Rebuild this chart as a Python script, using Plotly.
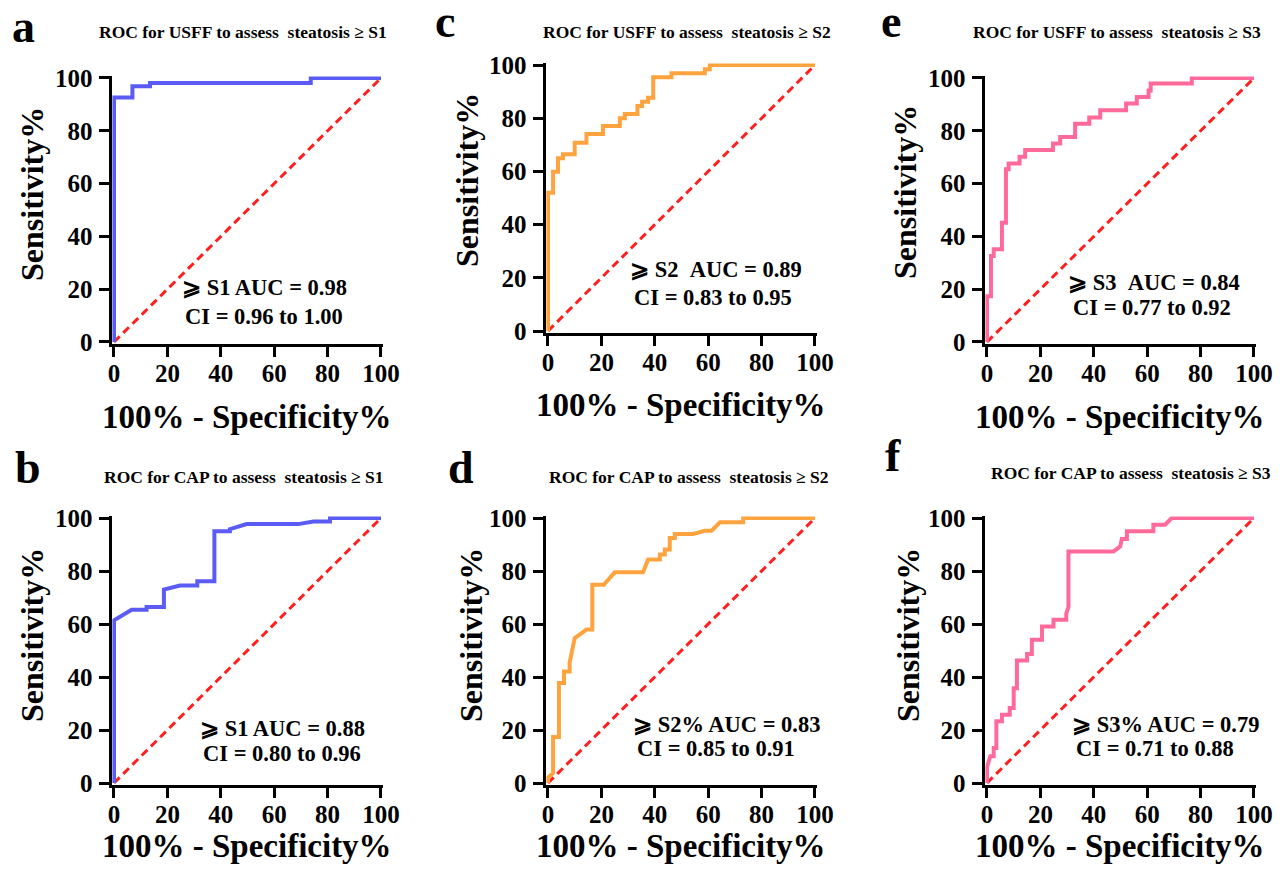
import plotly.graph_objects as go

# ---------------- data ----------------
fpr_a = [0, 0, 6.9, 6.9, 13.5, 13.5, 73.7, 73.7, 100]
tpr_a = [0, 92.6, 92.6, 96.9, 96.9, 98.1, 98.1, 100, 100]

fpr_b = [0, 0, 6.6, 12.2, 12.2, 18.7, 18.7, 24.7, 31.2, 31.2, 37.6, 37.6, 43.4, 43.4, 49.7, 69.0, 74.7, 80.9, 80.9, 100]
tpr_b = [0, 61.4, 65.4, 65.4, 66.4, 66.4, 73.0, 74.5, 74.5, 76.1, 76.1, 95.0, 95.0, 95.8, 97.7, 97.7, 98.7, 98.7, 100, 100]

fpr_c = [0, 0, 1.9, 1.9, 3.75, 3.75, 5.6, 5.6, 10.0, 10.0, 14.4, 14.4, 20.6, 20.6, 26.9, 26.9, 28.75,
         28.75, 33.5, 33.5, 35.25, 35.25, 37.5, 37.5, 39.4, 39.4, 46.25, 46.25, 58.75, 58.75, 60.6, 60.6, 100]
tpr_c = [0, 52.0, 52.0, 59.9, 59.9, 64.9, 64.9, 66.4, 66.4, 70.8, 70.8, 74.1, 74.1, 77.1, 77.1, 80.0, 80.0,
         81.6, 81.6, 84.6, 84.6, 86.2, 86.2, 87.7, 87.7, 95.4, 95.4, 96.9, 96.9, 98.4, 98.4, 100, 100]

fpr_d = [0, 0, 1.9, 1.9, 4.1, 4.1, 6.0, 6.0, 8.1, 8.1, 10.0, 14.4, 16.6, 16.6, 20.9, 25.0, 35.6, 37.5, 41.9,
         41.9, 43.75, 43.75, 45.6, 45.6, 47.5, 47.5, 54.4, 58.75, 61.25, 64.4, 73.1, 73.1, 100]
tpr_d = [0, 2.0, 3.8, 17.4, 17.4, 37.7, 37.7, 42.1, 42.1, 45.5, 54.7, 57.9, 57.9, 74.8, 74.8, 79.5, 79.5, 84.3, 84.3,
         86.2, 86.2, 88.1, 88.1, 92.5, 92.5, 94.0, 94.0, 95.2, 95.2, 98.4, 98.4, 100, 100]

fpr_e = [0, 0, 1.5, 1.5, 2.5, 2.5, 5.6, 5.6, 7.1, 7.1, 8.1, 8.1, 12.2, 12.2, 14.3, 14.3, 24.7, 24.7, 27.4,
         27.4, 33.0, 33.0, 38.3, 38.3, 42.4, 42.4, 52.1, 52.1, 56.1, 56.1, 60.5, 60.5, 61.3, 61.3, 76.7, 76.7, 100]
tpr_e = [0, 17.3, 17.3, 32.6, 32.6, 35.1, 35.1, 45.2, 45.2, 65.4, 65.4, 67.6, 67.6, 70.2, 70.2, 72.7, 72.7, 75.2, 75.2,
         77.7, 77.7, 82.7, 82.7, 85.0, 85.0, 87.8, 87.8, 90.3, 90.3, 92.8, 92.8, 95.3, 95.3, 97.9, 97.9, 100, 100]

fpr_f = [0, 0, 1.25, 2.5, 2.5, 3.5, 3.5, 5.6, 5.6, 8.5, 8.5, 10.0, 10.0, 11.2, 11.2, 15.0, 15.0, 16.8, 16.8, 20.6,
         20.6, 24.9, 24.9, 29.7, 29.7, 30.5, 30.5, 47.4, 49.9, 50.5, 52.4, 52.4, 62.3, 62.3, 66.7, 69.2, 100]
tpr_f = [0, 6.0, 10.1, 10.1, 13.2, 13.2, 23.3, 23.3, 25.8, 25.8, 28.3, 28.3, 35.8, 35.8, 46.2, 46.2, 48.7, 48.7, 54.1, 54.1,
         59.1, 59.1, 61.6, 61.6, 64.0, 66.4, 87.4, 87.4, 89.3, 92.1, 92.1, 95.0, 95.0, 97.5, 97.5, 100, 100]

ref_x = [0, 100]
ref_y = [0, 100]

tick_vals = [0, 20, 40, 60, 80, 100]
tick_text = ["0", "20", "40", "60", "80", "100"]

letters = ["a", "b", "c", "d", "e", "f"]
titles = [
    "ROC for USFF to assess \u00a0steatosis \u2265 S1",
    "ROC for CAP to assess \u00a0steatosis \u2265 S1",
    "ROC for USFF to assess \u00a0steatosis \u2265 S2",
    "ROC for CAP to assess \u00a0steatosis \u2265 S2",
    "ROC for USFF to assess \u00a0steatosis \u2265 S3",
    "ROC for CAP to assess \u00a0steatosis \u2265 S3",
]
auc_lines = [
    "\u2a7e S1 AUC = 0.98",
    "\u2a7e S1 AUC = 0.88",
    "\u2a7e S2 \u00a0AUC = 0.89",
    "\u2a7e S2% AUC = 0.83",
    "\u2a7e S3 \u00a0AUC = 0.84",
    "\u2a7e S3% AUC = 0.79",
]
ci_lines = [
    "CI = 0.96 to 1.00",
    "CI = 0.80 to 0.96",
    "CI = 0.83 to 0.95",
    "CI = 0.85 to 0.91",
    "CI = 0.77 to 0.92",
    "CI = 0.71 to 0.88",
]
x_title = "100% - Specificity%"
y_title = "Sensitivity%"

series = [(fpr_a, tpr_a), (fpr_b, tpr_b), (fpr_c, tpr_c), (fpr_d, tpr_d), (fpr_e, tpr_e), (fpr_f, tpr_f)]

# ---------------- layout / style ----------------
# The page adds an 8px body margin, so the figure is 16px smaller than the
# window and every page-pixel position below is shifted by OFF.
PAGE_W, PAGE_H = 1284, 873
OFF = 8
W, H = PAGE_W - 2 * OFF, PAGE_H - 2 * OFF
FONT = "Liberation Serif, Times New Roman, serif"
colors = ["#5b5cf6", "#5b5cf6", "#ffa33f", "#ffa33f", "#ff6a9a", "#ff6a9a"]

# page-pixel boxes of each plot: (x at 0, x at 100, y at 0, y at 100)
boxes = [
    (114, 381, 342, 78),
    (114, 381, 783, 518),
    (548, 815, 331, 65),
    (548, 815, 783, 518),
    (987, 1254, 342, 78),
    (987, 1254, 783, 518),
]
letter_pos = [(23, 26), (28, 467), (445, 22), (461, 467), (891, 22), (893, 455)]
title_pos = [(243, 32), (244, 477), (687, 32), (689, 477), (1117, 32), (1131, 473)]
auc_pos = [(264, 288), (282, 728), (716, 270), (726, 724), (1154, 282), (1165, 724)]
ci_pos = [(264, 316), (282, 753), (713, 297), (716, 748), (1152, 307), (1155, 748)]
ytitle_pos = [(32, 194), (32, 635), (467, 180), (471, 635), (905, 192), (908, 635)]
xtitle_pos = [(247, 417), (247, 846), (681, 405), (681, 846), (1120, 417), (1120, 846)]

PAD = 0.6

fig = go.Figure()
annotations = []


def px(x, y):
    return (x - OFF) / W, 1 - (y - OFF) / H


for i in range(6):
    n = i + 1
    xa = "x" if n == 1 else f"x{n}"
    ya = "y" if n == 1 else f"y{n}"
    fx, ft = series[i]
    fig.add_trace(go.Scatter(x=ref_x, y=ref_y, mode="lines", xaxis=xa, yaxis=ya,
                             line=dict(color="#ff1f1f", width=3, dash="8px,5px"),
                             showlegend=False, hoverinfo="skip"))
    fig.add_trace(go.Scatter(x=fx, y=ft, mode="lines", xaxis=xa, yaxis=ya,
                             line=dict(color=colors[i], width=4),
                             showlegend=False))

    x0, x1, y0, y1 = boxes[i]
    sx = (x1 - x0) / 100.0
    sy = (y0 - y1) / 100.0
    xd = [px(x0 - PAD * sx, 0)[0], px(x1 + PAD * sx, 0)[0]]
    yd = [px(0, y0 + PAD * sy)[1], px(0, y1 - PAD * sy)[1]]
    axis_common = dict(
        range=[-PAD, 100 + PAD], showgrid=False, zeroline=False,
        showline=True, linecolor="black", linewidth=3, layer="below traces",
        ticks="outside", ticklen=10, tickwidth=3, tickcolor="black",
        tickvals=tick_vals, ticktext=tick_text,
        tickfont=dict(family=FONT, size=25, color="black", weight="bold"),
        fixedrange=True, automargin=False,
    )
    fig.update_layout(**{
        ("xaxis" if n == 1 else f"xaxis{n}"): dict(domain=xd, anchor=ya, ticklabelstandoff=-5, **axis_common),
        ("yaxis" if n == 1 else f"yaxis{n}"): dict(domain=yd, anchor=xa, ticklabelstandoff=2, **axis_common),
    })

    def ann(text, pos, size, angle=0):
        ax, ay = px(*pos)
        annotations.append(dict(text=text, x=ax, y=ay, xref="paper", yref="paper",
                                xanchor="center", yanchor="middle", showarrow=False,
                                textangle=angle,
                                font=dict(family=FONT, size=size, color="black", weight="bold")))

    ann(letters[i], letter_pos[i], 46)
    ann(titles[i], title_pos[i], 17.5)
    ann(auc_lines[i], auc_pos[i], 22.5)
    ann(ci_lines[i], ci_pos[i], 22.5)
    ann(y_title, ytitle_pos[i], 32, -90)
    ann(x_title, xtitle_pos[i], 33)

fig.update_layout(
    width=W, height=H, margin=dict(l=0, r=0, t=0, b=0, autoexpand=False),
    paper_bgcolor="white", plot_bgcolor="white",
    annotations=annotations, showlegend=False,
)

fig.write_html("out.html")
